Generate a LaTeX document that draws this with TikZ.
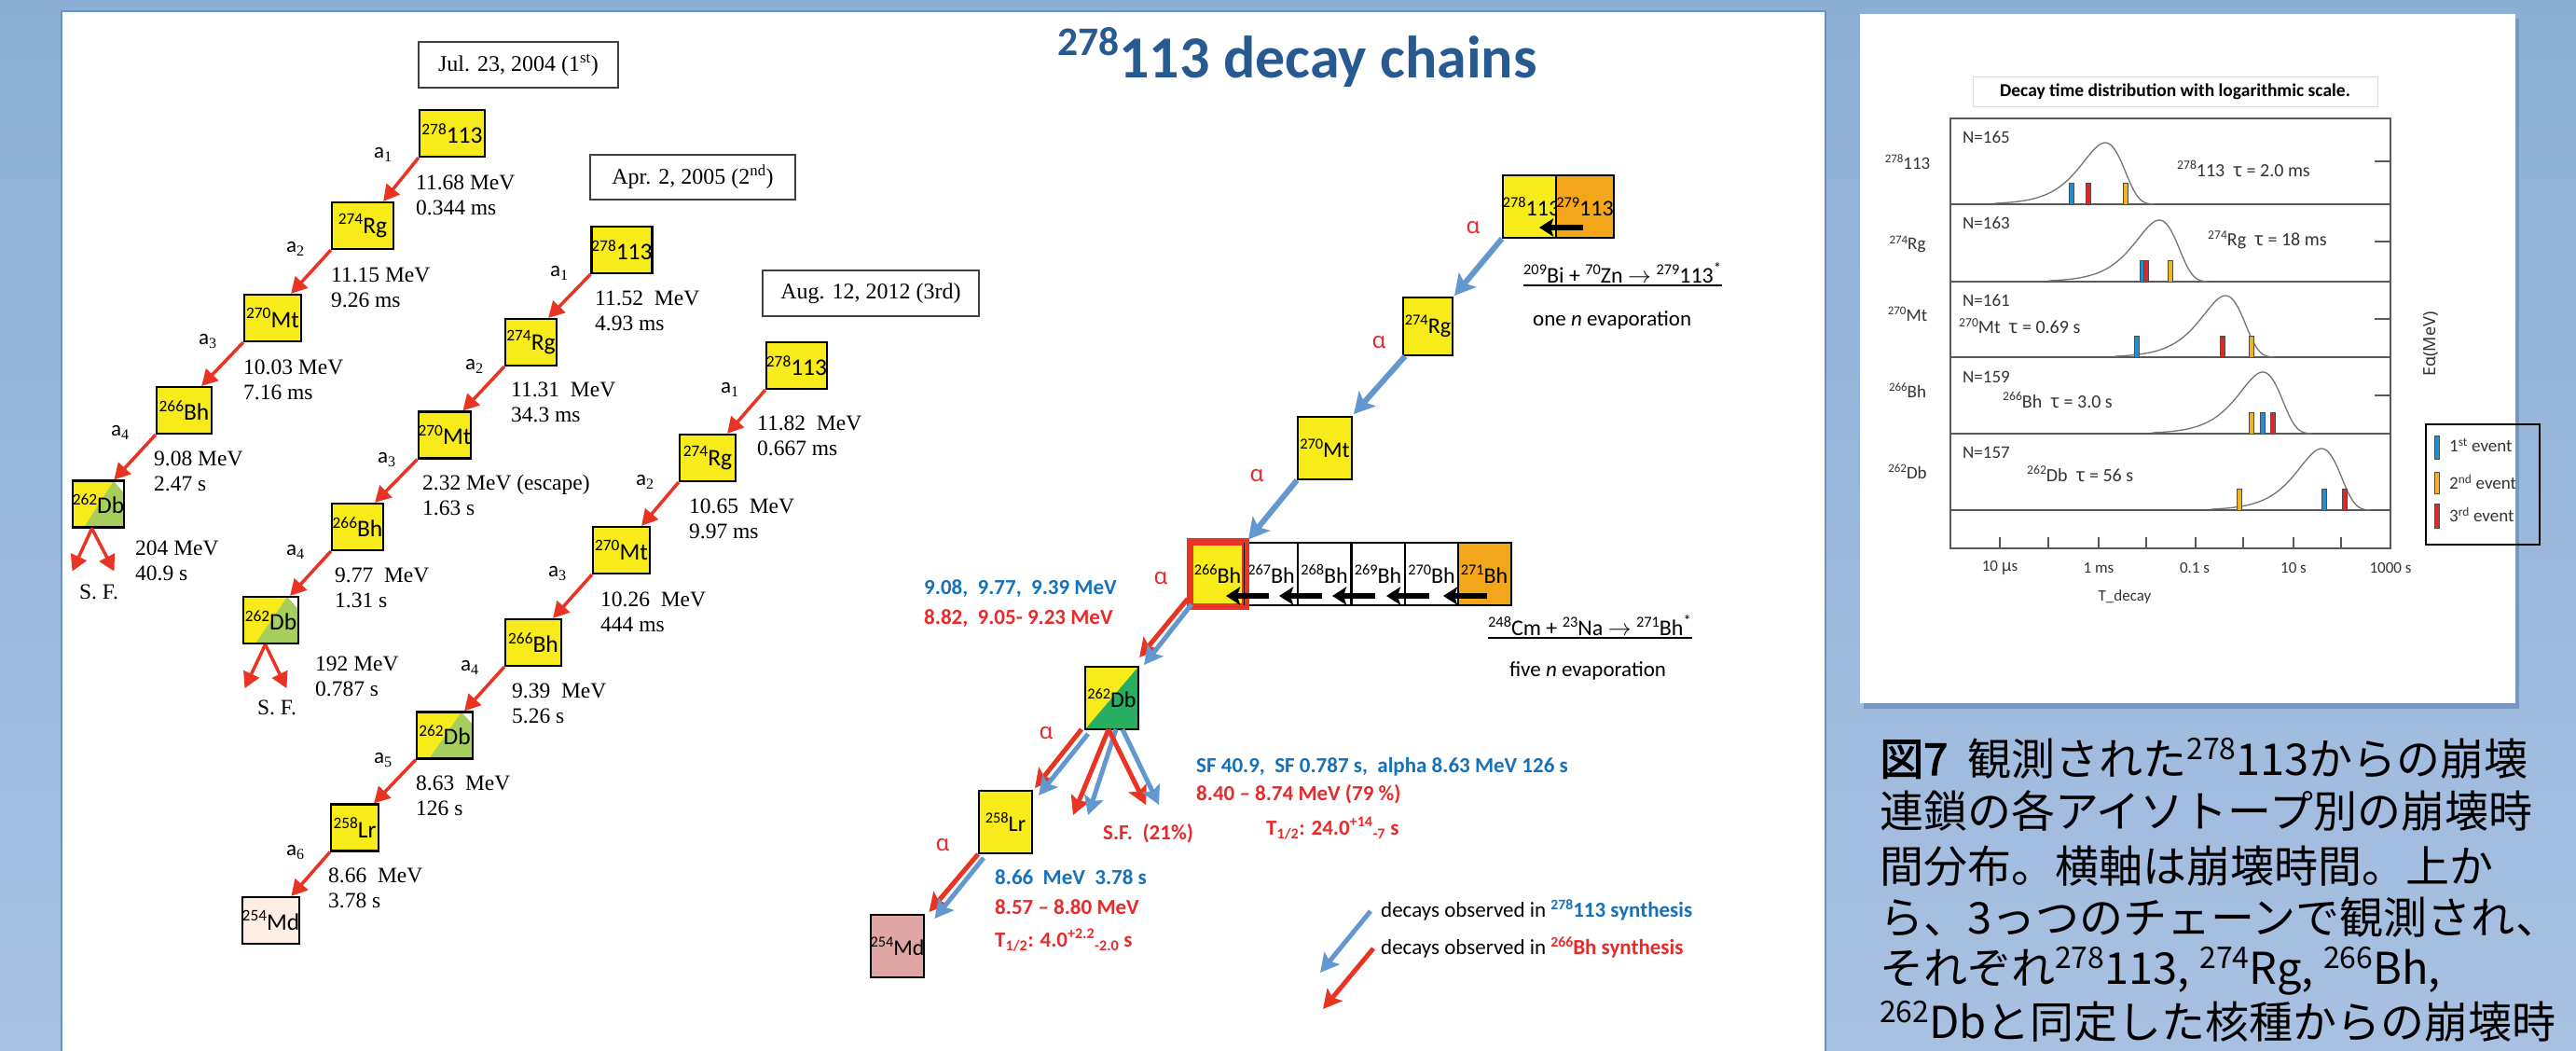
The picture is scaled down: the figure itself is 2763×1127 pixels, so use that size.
\documentclass[tikz,border=0pt]{standalone}
\usepackage{fontspec}
\usetikzlibrary{arrows.meta,calc}
\newfontfamily\calf{Carlito}
\newfontfamily\tms{Liberation Serif}
\newfontfamily\grk{Noto Sans}
\newfontfamily\jp{Noto Sans CJK JP}
\newfontfamily\jpb[FakeBold=2.5]{Noto Sans CJK JP}
\newcommand\iso[2]{\raisebox{0.36em}{\scalebox{0.68}{#1}}#2}
\newcommand\fs[1]{\fontsize{#1}{#1}\selectfont}
\definecolor{ybox}{RGB}{247,236,26}
\definecolor{obox}{RGB}{243,166,26}
\definecolor{gdb}{RGB}{166,206,92}
\definecolor{gdbb}{RGB}{40,174,96}
\definecolor{mdl}{RGB}{253,237,226}
\definecolor{mdr}{RGB}{224,166,163}
\definecolor{ared}{RGB}{234,52,35}
\definecolor{ablue}{RGB}{99,151,207}
\definecolor{tblue}{RGB}{22,113,186}
\definecolor{tred}{RGB}{232,42,42}
\definecolor{ttl}{RGB}{38,90,145}
\definecolor{bgtop}{RGB}{141,175,214}
\definecolor{bgbot}{RGB}{168,193,226}
\definecolor{panelb}{RGB}{105,145,200}
\definecolor{shd}{RGB}{120,150,192}
\definecolor{evb}{RGB}{30,144,210}
\definecolor{evo}{RGB}{240,180,30}
\definecolor{evr}{RGB}{220,40,40}
\tikzset{
 cb/.style={draw=black, line width=2.2, fill=ybox, minimum height=50, inner sep=0, font=\calf\fs{25.5}},
 rb/.style={draw=black, line width=2, fill=ybox, minimum width=57, minimum height=67, inner sep=0, font=\calf\fs{24}},
 redarr/.style={draw=ared, line width=3.5, -{Triangle[length=17pt,width=18pt]}},
 bluearr/.style={draw=ablue, line width=6, -{Stealth[length=22pt,width=24pt,inset=5pt]}},
 redtwo/.style={draw=ared, line width=5, -{Stealth[length=20pt,width=21pt,inset=4pt]}},
 bluetwo/.style={draw=ablue, line width=5, -{Stealth[length=20pt,width=21pt,inset=4pt]}},
 blk/.style={draw=black, line width=5.5, -{Stealth[length=15pt,width=19pt,inset=3pt]}},
 al/.style={font=\calf\fs{23}, inner sep=0},
 en/.style={anchor=west, align=left, inner sep=0, font=\tms\fontsize{23.5}{27}\selectfont},
 datebox/.style={draw=black!75, line width=1.6, inner sep=0, font=\tms\fs{24}},
 alp/.style={font=\grk\fs{24}, text=tred, inner sep=0},
 bt/.style={anchor=west, inner sep=0, font=\calf\bfseries\fs{23}},
 pl/.style={draw=black!65, line width=1.5},
 curve/.style={draw=black!55, line width=1.3},
 ptx/.style={inner sep=0, font=\calf\fs{19}, text=black!80},
 jpl/.style={anchor=west, inner sep=0, font=\jp\fs{47}}
}
\newcommand\dbleft[5]{%
 \fill[ybox] (#2-#4/2,#3-25) rectangle (#2+#4/2,#3+25);
 \fill[gdb] (#2-#4/2+0.22*#4,#3+25) -- (#2+#4/2-0.2*#4,#3-25) -- (#2+#4/2,#3-12) -- (#2+#4/2,#3+25) -- cycle;
 \fill[white] (#2+#4/2-0.2*#4,#3-25) -- (#2+#4/2,#3-25) -- (#2+#4/2,#3-12) -- cycle;
 \node[cb, fill=none, minimum width=#4] (#1) at (#2,#3) {#5};}
\newcommand\evbar[3]{\filldraw[fill=#3, draw=black!70, line width=0.8] (#1-2.5,#2) rectangle (#1+2.5,#2-23);}
\newcommand\asub[1]{a\textsubscript{\tms #1}}
\begin{document}
\begin{tikzpicture}[x=1pt,y=-1pt]
\useasboundingbox (0,0) rectangle (2763,1127);
\shade[top color=bgtop, bottom color=bgbot] (0,0) rectangle (2763,1127);
% main panel
\fill[white] (66,12) rectangle (1958,1150);
\draw[panelb, line width=2] (66,12) rectangle (1958,1150);
% right panel
\fill[shd] (1999,20) rectangle (2702,760);
\fill[white] (1995,15) rectangle (2698,754);

% ---------------- Chain 1
\node[datebox, minimum width=214, minimum height=49] (d1) at (556,69.5) {Jul. 23, 2004 (1\textsuperscript{st})};
\node[cb, minimum width=70] (a1) at (485,143) {\iso{278}{113}};
\node[cb, minimum width=66] (a2) at (389,242) {\iso{274}{Rg}};
\node[cb, minimum width=61] (a3) at (292.5,341) {\iso{270}{Mt}};
\node[cb, minimum width=59] (a4) at (197.5,440) {\iso{266}{Bh}};
\dbleft{a5}{105.5}{540.5}{55}{\iso{262}{Db}}
\draw[redarr] (a1.south west) -- ($(a2.north east)+(-12,0)$);
\draw[redarr] (a2.south west) -- ($(a3.north east)+(-12,0)$);
\draw[redarr] (a3.south west) -- ($(a4.north east)+(-12,0)$);
\draw[redarr] (a4.south west) -- ($(a5.north east)+(-12,0)$);
\coordinate (a5s) at ($(a5.south)+(-7,0)$);
\coordinate (a5l) at ($(a5s)+(-21,46)$);
\coordinate (a5r) at ($(a5s)+(24,46)$);
\draw[redarr] (a5s) -- (a5l);
\draw[redarr] (a5s) -- (a5r);
\node[al] (la11) at (411,166) {\asub{1}};
\node[al] (la12) at (317,267) {\asub{2}};
\node[al] (la13) at (223,366) {\asub{3}};
\node[al] (la14) at (129,464) {\asub{4}};
\node[en] (e11) at (446,209) {11.68 MeV\\0.344 ms};
\node[en] (e12) at (355,308) {11.15 MeV\\9.26 ms};
\node[en] (e13) at (261,407) {10.03 MeV\\7.16 ms};
\node[en] (e14) at (165,505.5) {9.08 MeV\\2.47 s};
\node[en] (e15) at (145,601.5) {204 MeV\\40.9 s};
\node[inner sep=0, font=\tms\fs{23.5}] (sf1) at (106,635) {S. F.};

% ---------------- Chain 2
\node[datebox, minimum width=220, minimum height=48] (d2) at (743,190) {Apr. 2, 2005 (2\textsuperscript{nd})};
\node[cb, minimum width=62] (b1) at (667,268) {\iso{278}{113}};
\node[cb, minimum width=55] (b2) at (569.5,367) {\iso{274}{Rg}};
\node[cb, minimum width=56] (b3) at (477,466.5) {\iso{270}{Mt}};
\node[cb, minimum width=55] (b4) at (383.5,565) {\iso{266}{Bh}};
\dbleft{b5}{290.5}{665}{59}{\iso{262}{Db}}
\draw[redarr] (b1.south west) -- ($(b2.north east)+(-10,0)$);
\draw[redarr] (b2.south west) -- ($(b3.north east)+(-10,0)$);
\draw[redarr] (b3.south west) -- ($(b4.north east)+(-10,0)$);
\draw[redarr] (b4.south west) -- ($(b5.north east)+(-10,0)$);
\coordinate (b5s) at ($(b5.south)+(-6,0)$);
\coordinate (b5l) at ($(b5s)+(-22,47)$);
\coordinate (b5r) at ($(b5s)+(23,47)$);
\draw[redarr] (b5s) -- (b5l);
\draw[redarr] (b5s) -- (b5r);
\node[al] (la21) at (600,293) {\asub{1}};
\node[al] (la22) at (509,393) {\asub{2}};
\node[al] (la23) at (415,493) {\asub{3}};
\node[al] (la24) at (317,592) {\asub{4}};
\node[en] (e21) at (638,333) {11.52\ \ MeV\\4.93 ms};
\node[en] (e22) at (548,431.5) {11.31\ \ MeV\\34.3 ms};
\node[en] (e23) at (453,531.5) {2.32 MeV (escape)\\1.63 s};
\node[en] (e24) at (359,630.5) {9.77\ \ MeV\\1.31 s};
\node[en] (e25) at (338,725.5) {192 MeV\\0.787 s};
\node[inner sep=0, font=\tms\fs{23.5}] (sf2) at (297,759) {S. F.};

% ---------------- Chain 3
\node[datebox, minimum width=232, minimum height=49] (d3) at (934,314.5) {Aug. 12, 2012 (3rd)};
\node[cb, minimum width=63] (c1) at (854.5,392) {\iso{278}{113}};
\node[cb, minimum width=60] (c2) at (759,491) {\iso{274}{Rg}};
\node[cb, minimum width=61] (c3) at (666.5,590) {\iso{270}{Mt}};
\node[cb, minimum width=60] (c4) at (572,689) {\iso{266}{Bh}};
\dbleft{c5}{477}{788.5}{60}{\iso{262}{Db}}
\node[cb, minimum width=51] (c6) at (380.5,887.5) {\iso{258}{Lr}};
\node[cb, minimum width=59, fill=mdl] (c7) at (290.5,987) {\iso{254}{Md}};
\draw[redarr] (c1.south west) -- ($(c2.north east)+(-10,0)$);
\draw[redarr] (c2.south west) -- ($(c3.north east)+(-10,0)$);
\draw[redarr] (c3.south west) -- ($(c4.north east)+(-10,0)$);
\draw[redarr] (c4.south west) -- ($(c5.north east)+(-10,0)$);
\draw[redarr] (c5.south west) -- ($(c6.north east)+(-6,0)$);
\draw[redarr] (c6.south west) -- ($(c7.north east)+(-10,0)$);
\node[al] (la31) at (783,418) {\asub{1}};
\node[al] (la32) at (692,517) {\asub{2}};
\node[al] (la33) at (598,615) {\asub{3}};
\node[al] (la34) at (504,716) {\asub{4}};
\node[al] (la35) at (411,815) {\asub{5}};
\node[al] (la36) at (317,914) {\asub{6}};
\node[en] (e31) at (812,467) {11.82\ \ MeV\\0.667 ms};
\node[en] (e32) at (739,556.5) {10.65\ \ MeV\\9.97 ms};
\node[en] (e33) at (644,656) {10.26\ \ MeV\\444 ms};
\node[en] (e34) at (549,754) {9.39\ \ MeV\\5.26 s};
\node[en] (e35) at (446,853) {8.63\ \ MeV\\126 s};
\node[en] (e36) at (352,952.5) {8.66\ \ MeV\\3.78 s};

% ---------------- Title
\node[anchor=base west, inner sep=0, font=\calf\bfseries\fs{64}, text=ttl] (title) at (1134,83) {\iso{278}{113} decay chains};

% ---------------- Right chain
\node[rb] (r113) at (1642.5,221.5) {\iso{278}{113}};
\node[rb, fill=obox] (r279) at (1700,221.5) {\iso{279}{113}};
\node[rb, minimum width=53, minimum height=62] (rrg) at (1531.5,350) {\iso{274}{Rg}};
\node[rb, minimum width=58] (rmt) at (1421,480.5) {\iso{270}{Mt}};
\node[rb, draw=ared, line width=5] (bh266) at (1306,615.5) {\iso{266}{Bh}};
\node[rb, fill=white] (bh267) at (1363.5,615.5) {\iso{267}{Bh}};
\node[rb, fill=white] (bh268) at (1420.5,615.5) {\iso{268}{Bh}};
\node[rb, fill=white] (bh269) at (1478,615.5) {\iso{269}{Bh}};
\node[rb, fill=white] (bh270) at (1535.5,615.5) {\iso{270}{Bh}};
\node[rb, fill=obox] (bh271) at (1592,615.5) {\iso{271}{Bh}};
\draw[ared, line width=5] (bh266.south west) rectangle (bh266.north east);
% 262Db split
\fill[ybox] (1164,715) rectangle (1221,782);
\fill[gdbb] (1164,782) -- (1221,715) -- (1221,782) -- cycle;
\node[rb, fill=none] (rdb) at (1192.5,748.5) {\iso{262}{Db}};
\node[rb] (rlr) at (1078.5,881.5) {\iso{258}{Lr}};
\node[rb, fill=mdr] (rmd) at (962.5,1014.5) {\iso{254}{Md}};
% black arrows
\coordinate (k1t) at (1698,244); \coordinate (k1h) at (1651,244);
\draw[blk] (k1t) -- (k1h);
\foreach \bx/\nm in {1335/ka,1392/kb,1449/kc,1507/kd}{
  \coordinate (\nm t) at (\bx+26,639); \coordinate (\nm h) at (\bx-20,639);
  \draw[blk] (\nm t) -- (\nm h);}
\coordinate (ket) at (1595,639); \coordinate (keh) at (1548,639);
\draw[blk] (ket) -- (keh);
% blue alpha arrows
\draw[bluearr] (r113.south west) -- ($(rrg.north east)+(1,-1)$);
\draw[bluearr] ($(rrg.south west)+(3,0)$) -- ($(rmt.north east)+(1,-2)$);
\draw[bluearr] (rmt.south west) -- ($(bh266.north east)+(2,-1)$);
% double arrows
\coordinate (p1r) at (1274,642); \coordinate (p1b) at (1278,648);
\draw[redtwo] (p1r) -- ($(rdb.north east)+(0,-9)$);
\draw[bluetwo] (p1b) -- ($(rdb.north east)+(5,-1)$);
\coordinate (p2r) at (1160,782); \coordinate (p2b) at (1167,787);
\draw[redtwo] (p2r) -- ($(rlr.north east)+(2,-2)$);
\draw[bluetwo] (p2b) -- ($(rlr.north east)+(6,6)$);
\coordinate (sfo) at (1189,782); \coordinate (sfob) at (1197,782); \coordinate (sfoc) at (1204,782);
\coordinate (sfl) at (1151,874); \coordinate (sflb) at (1167,874);
\coordinate (sfr) at (1229,863); \coordinate (sfrb) at (1243,863);
\draw[redtwo] (sfo) -- (sfl);
\draw[bluetwo] (sfob) -- (sflb);
\draw[redtwo] (sfo) -- (sfr);
\draw[bluetwo] (sfoc) -- (sfrb);
\coordinate (p3r) at (1049,916); \coordinate (p3b) at (1055,920);
\draw[redtwo] (p3r) -- ($(rmd.north east)+(4,-2)$);
\draw[bluetwo] (p3b) -- ($(rmd.north east)+(10,5)$);
% alpha labels
\node[alp] (al1) at (1580,244) {α};
\node[alp] (al2) at (1479,367) {α};
\node[alp] (al3) at (1348,510) {α};
\node[alp] (al4) at (1245,620) {α};
\node[alp] (al5) at (1122,786) {α};
\node[alp] (al6) at (1011,906) {α};
% reaction texts
\node[anchor=base west, inner sep=0, font=\calf\fs{24}] (rx1) at (1634,303) {\iso{209}{Bi} + \iso{70}{Zn} $\rightarrow$ \iso{279}{113}\textsuperscript{*}};
\draw[line width=2.2] ($(rx1.base west)+(0,3)$) -- ($(rx1.base east)+(0,3)$);
\node[anchor=west, inner sep=0, font=\calf\fs{23}] (ev1) at (1644,343) {one \textit{n} evaporation};
\node[anchor=base west, inner sep=0, font=\calf\fs{24}] (rx2) at (1596,681) {\iso{248}{Cm} + \iso{23}{Na} $\rightarrow$ \iso{271}{Bh}\textsuperscript{*}};
\draw[line width=2.2] ($(rx2.base west)+(0,3)$) -- ($(rx2.base east)+(0,3)$);
\node[inner sep=0, font=\calf\fs{23}] (ev2) at (1703,719) {five \textit{n} evaporation};
% data texts
\node[bt, text=tblue] (q1) at (991,631) {9.08,\ \ 9.77,\ \ 9.39 MeV};
\node[bt, text=tred] (q2) at (991,663) {8.82,\ \ 9.05- 9.23 MeV};
\node[bt, text=tblue] (q3) at (1283,822) {SF 40.9,\ \ SF 0.787 s,\ \ alpha 8.63 MeV 126 s};
\node[bt, text=tred] (q4) at (1283,852) {8.40 – 8.74 MeV (79 \%)};
\node[bt, text=tred] (q5) at (1358,888) {T\textsubscript{1/2}: 24.0\textsuperscript{+14}\textsubscript{-7} s};
\node[bt, text=tred] (q6) at (1183,894) {S.F.\ \ (21\%)};
\node[bt, text=tblue] (q7) at (1067,941) {8.66\ \ MeV\ \ 3.78 s};
\node[bt, text=tred] (q8) at (1067,973) {8.57 – 8.80 MeV};
\node[bt, text=tred] (q9) at (1067,1008) {T\textsubscript{1/2}: 4.0\textsuperscript{+2.2}\textsubscript{-2.0} s};
% legend
\coordinate (lg1t) at (1470,977); \coordinate (lg1h) at (1416,1043);
\draw[bluetwo] (lg1t) -- (lg1h);
\coordinate (lg2t) at (1473,1017); \coordinate (lg2h) at (1419,1082);
\draw[redtwo] (lg2t) -- (lg2h);
\node[anchor=west, inner sep=0, font=\calf\fs{23}] (lgt1) at (1481,976) {decays observed in {\bfseries\color{tblue}\iso{278}{113} synthesis}};
\node[anchor=west, inner sep=0, font=\calf\fs{23}] (lgt2) at (1481,1016) {decays observed in {\bfseries\color{tred}\iso{266}{Bh} synthesis}};

% ---------------- Right panel plot
\node[draw=black!15, line width=1, minimum width=434, minimum height=32, inner sep=0, font=\calf\bfseries\fs{19.5}] (ptitle) at (2333,98) {Decay time distribution with logarithmic scale.};
\draw[pl] (2092,127) rectangle (2564,588);
\foreach \yy in {219,302,383,465,547} \draw[pl] (2092,\yy) -- (2564,\yy);
\foreach \xx in {2145,2197,2251,2302,2355,2406,2460,2511} \draw[pl] (\xx,588) -- (\xx,576);
\foreach \yy in {173,259,342,424} \draw[pl] (2547,\yy) -- (2564,\yy);
\foreach \pk/\bs in {2258/219, 2316/302, 2387/383, 2427/465, 2490/547}
  \draw[curve] plot[domain=-5.2:2.3, samples=90, variable=\u] ({\pk+22.8*\u},{\bs-66*exp(1+\u-exp(\u))});
\evbar{2222}{219}{evb}\evbar{2240}{219}{evr}\evbar{2280}{219}{evo}
\evbar{2298}{302}{evb}\evbar{2302}{302}{evr}\evbar{2328}{302}{evo}
\evbar{2292}{383}{evb}\evbar{2384}{383}{evr}\evbar{2415}{383}{evo}
\evbar{2415}{465}{evo}\evbar{2427}{465}{evb}\evbar{2438}{465}{evr}
\evbar{2402}{547}{evo}\evbar{2493}{547}{evb}\evbar{2515}{547}{evr}
\node[ptx] (rl1) at (2046,174) {\iso{278}{113}};
\node[ptx] (rl2) at (2046,262) {\iso{274}{Rg}};
\node[ptx] (rl3) at (2046,337) {\iso{270}{Mt}};
\node[ptx] (rl4) at (2046,419) {\iso{266}{Bh}};
\node[ptx] (rl5) at (2046,506) {\iso{262}{Db}};
\node[ptx, anchor=west] (n1) at (2105,147) {N=165};
\node[ptx, anchor=west] (n2) at (2105,239) {N=163};
\node[ptx, anchor=west] (n3) at (2105,322) {N=161};
\node[ptx, anchor=west] (n4) at (2105,404) {N=159};
\node[ptx, anchor=west] (n5) at (2105,485) {N=157};
\node[ptx, anchor=west, font=\calf\fs{20}] (tau1) at (2335,181) {\iso{278}{113}\ \ {\grk τ} = 2.0 ms};
\node[ptx, anchor=west, font=\calf\fs{20}] (tau2) at (2368,257) {\iso{274}{Rg}\ \ {\grk τ} = 18 ms};
\node[ptx, anchor=west, font=\calf\fs{20}] (tau3) at (2101,350) {\iso{270}{Mt}\ \ {\grk τ} = 0.69 s};
\node[ptx, anchor=west, font=\calf\fs{20}] (tau4) at (2148,429) {\iso{266}{Bh}\ \ {\grk τ} = 3.0 s};
\node[ptx, anchor=west, font=\calf\fs{20}] (tau5) at (2174,508) {\iso{262}{Db}\ \ {\grk τ} = 56 s};
\node[ptx, font=\calf\fs{17}] (x1) at (2145,609) {10 {\grk μ}s};
\node[ptx, font=\calf\fs{17}] (x2) at (2251,609) {1 ms};
\node[ptx, font=\calf\fs{17}] (x3) at (2354,609) {0.1 s};
\node[ptx, font=\calf\fs{17}] (x4) at (2460,609) {10 s};
\node[ptx, font=\calf\fs{17}] (x5) at (2564,609) {1000 s};
\node[ptx, font=\calf\fs{17}] (xt) at (2279,640) {T\_decay};
\node[ptx, rotate=90, font=\grk\fs{18}] (ey) at (2607,369) {Eα(MeV)};
% legend
\draw[black, line width=2] (2602,455) rectangle (2724,584);
\filldraw[fill=evb, draw=black!70, line width=0.8] (2611.5,467) rectangle (2616.5,492);
\filldraw[fill=evo, draw=black!70, line width=0.8] (2611.5,506) rectangle (2616.5,529);
\filldraw[fill=evr, draw=black!70, line width=0.8] (2611.5,540) rectangle (2616.5,566);
\begin{scope}
\clip (2602,440) rectangle (2697,600);
\node[ptx, anchor=west] (lv1) at (2627,477) {1\textsuperscript{st} event};
\node[ptx, anchor=west] (lv2) at (2627,517) {2\textsuperscript{nd} event};
\node[ptx, anchor=west] (lv3) at (2627,552) {3\textsuperscript{rd} event};
\end{scope}

% ---------------- Japanese caption
\node[jpl] (j1) at (2016,813) {{\jpb 図7}\ \ 観測された\iso{278}{113}からの崩壊};
\node[jpl] (j2) at (2016,870) {連鎖の各アイソトープ別の崩壊時};
\node[jpl] (j3) at (2016,929) {間分布。横軸は崩壊時間。上か};
\node[jpl] (j4) at (2016,984) {ら、3っつのチェーンで観測され、};
\node[jpl] (j5) at (2016,1041) {それぞれ\iso{278}{113}, \iso{274}{Rg}, \iso{266}{Bh},};
\node[jpl] (j6) at (2016,1095) {\iso{262}{Db}と同定した核種からの崩壊時};
\end{tikzpicture}
\end{document}
